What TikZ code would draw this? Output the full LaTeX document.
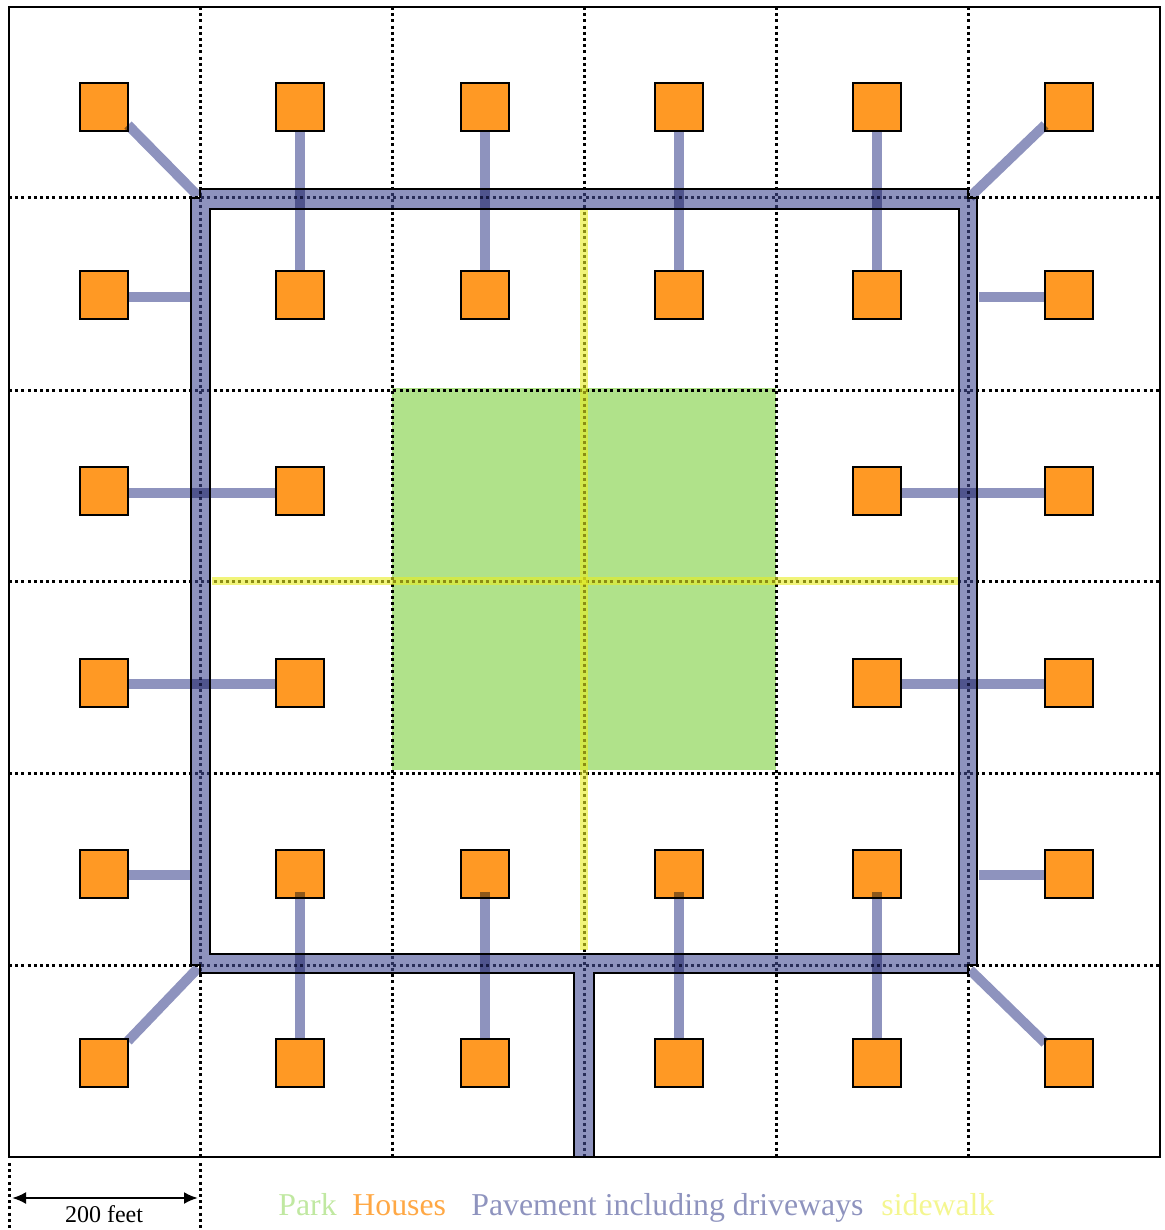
\documentclass[tikz,border=0pt]{standalone}
\usepackage{fontspec}
\setmainfont{Liberation Serif}
\usetikzlibrary{arrows.meta, positioning}
\definecolor{parkgreen}{RGB}{176,226,138}
\definecolor{houseorange}{RGB}{255,153,36}
\definecolor{pavement}{RGB}{142,147,190}
\definecolor{pavementbase}{RGB}{67,75,147}
\definecolor{walkyellow}{RGB}{232,236,32}
\tikzset{
  griddot/.style={line width=1.5pt, dash pattern=on 1.5pt off 1.6pt},
  house/.style={rectangle, draw=black, line width=1.3pt, fill=houseorange,
                minimum size=24pt, inner sep=0pt, outer sep=0pt},
  drive/.style={line width=5pt, pavement, blend mode=multiply},
  walk/.style={line width=4.4pt, walkyellow, opacity=0.6},
  legend/.style={anchor=base west, inner sep=0pt, font=\fontsize{15.9}{18}\selectfont},
}
\begin{document}
\begin{tikzpicture}[x=0.5pt, y=-0.5pt]
    \useasboundingbox (0,0) rectangle (1164,1230);
    % --- Park ---
    \fill[parkgreen] (392,388) rectangle (776,770);
    % --- Grid ---
    \foreach \x in {200,392,584,776,968} { \draw[griddot] (\x,7) -- (\x,1157); }
    \foreach \y in {198,390,581,773,965} { \draw[griddot] (9,\y) -- (1160,\y); }
    \foreach \x in {9,200} { \draw[griddot] (\x,1163) -- (\x,1230); }
    % --- Sidewalks ---
    \coordinate (walkn) at (584,208);
    \coordinate (walks) at (584,950);
    \coordinate (walkw) at (212,581);
    \coordinate (walke) at (958,581);
    \draw[walk] (walkn) -- (walks);
    \draw[walk] (walkw) -- (walke);
    % --- Houses ---
    \foreach \r/\y in {1/107,2/295,5/874,6/1063} {
      \foreach \c/\x in {1/104,2/300,3/485,4/679,5/877,6/1069} {
        \node[house] (h\r\c) at (\x,\y) {};
      }
    }
    \foreach \r/\y in {3/491,4/683} {
      \foreach \c/\x in {1/104,2/300,5/877,6/1069} {
        \node[house] (h\r\c) at (\x,\y) {};
      }
    }
    % --- Pavement ---
    \path[fill=pavementbase, fill opacity=0.6, even odd rule]
      (200,189) -- (968,189) -- (968,198) -- (977,198) -- (977,965) -- (968,965)
      -- (968,973) -- (594,973) -- (594,1157) -- (574,1157) -- (574,973) -- (200,973)
      -- (200,965) -- (191,965) -- (191,198) -- (200,198) -- cycle
      (210,209) rectangle (959,954);
    \draw[black, line width=1.35pt]
      (200,198) -- (200,189) -- (968,189) -- (968,198) -- (977,198) -- (977,965) -- (968,965)
      -- (968,973) -- (594,973) -- (594,1157)
      (574,1157) -- (574,973) -- (200,973)
      -- (200,965) -- (191,965) -- (191,198) -- (200,198);
    \draw[black, line width=1.35pt] (210,209) rectangle (959,954);
    % --- Driveways ---
    \coordinate (cornernw) at (198,196);
    \coordinate (cornerne) at (970,197);
    \coordinate (cornersw) at (198,968);
    \coordinate (cornerse) at (970,970);
    \draw[drive] ([yshift=3pt]h11.south east) -- (cornernw);
    \draw[drive] ([yshift=3pt]h16.south west) -- (cornerne);
    \draw[drive] ([yshift=-1pt]h61.north east) -- (cornersw);
    \draw[drive] ([yshift=-2pt]h66.north west) -- (cornerse);
    \foreach \c in {2,3,4,5} {
      \draw[drive] (h1\c) -- (h2\c);
      \draw[drive] ([yshift=-9pt]h5\c.center) -- (h6\c);
    }
    \foreach \r/\s in {3/-1pt,4/-0.5pt} {
      \draw[drive] ([yshift=\s]h\r1.east) -- ([yshift=\s]h\r2.west);
      \draw[drive] ([yshift=\s]h\r5.east) -- ([yshift=\s]h\r6.west);
    }
    \coordinate (edgew2) at (190,297);
    \coordinate (edgee2) at (979,297);
    \coordinate (edgew5) at (190,875);
    \coordinate (edgee5) at (979,875);
    \draw[drive] ([yshift=-1pt]h21.east) -- (edgew2);
    \draw[drive] (edgee2) -- ([yshift=-1pt]h26.west);
    \draw[drive] ([yshift=-0.5pt]h51.east) -- (edgew5);
    \draw[drive] (edgee5) -- ([yshift=-0.5pt]h56.west);
    % --- Frame ---
    \draw[black, line width=1.3pt] (9,7) rectangle (1160,1157);
    % --- Scale ---
    \coordinate (scalew) at (12,1198);
    \coordinate (scalee) at (198,1198);
    \draw[{Latex[length=7pt,width=6pt]}-{Latex[length=7pt,width=6pt]}, line width=1.2pt] (scalew) -- (scalee);
    \node[font=\fontsize{12}{14}\selectfont, inner sep=0pt] (scalelabel) at (104,1214) {200 feet};
    % --- Legend ---
    \node[legend, text=parkgreen!80!white] (parklabel) at (278,1215) {Park};
    \node[legend, text=houseorange!85!white] (houselabel) at (352,1215) {Houses};
    \node[legend, text=pavement] (pavelabel) at (471,1215) {Pavement including driveways};
    \node[legend, text=walkyellow!50!white] (walklabel) at (881,1215) {sidewalk};
\end{tikzpicture}
\end{document}
